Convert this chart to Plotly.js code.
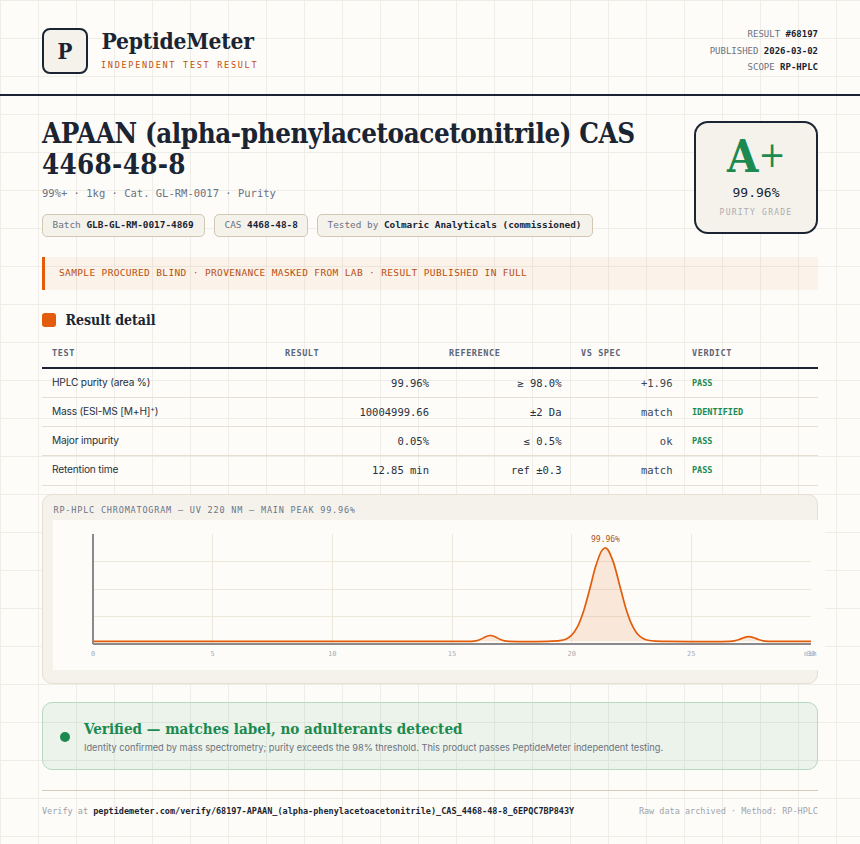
<!DOCTYPE html>
<html><head><meta charset="utf-8">
<script src="https://cdn.plot.ly/plotly-3.0.1.min.js"></script>
<style>
:root{--ink:#1a2433;--mono:"DejaVu Sans Mono",monospace;--serif:"DejaVu Serif Condensed","DejaVu Serif",serif;--sans:Inter,"Noto Sans",sans-serif;--orange:#e25c0b;--green:#1c8a50;--panel:#f5f2ec;--muted:#6b7280}
*{box-sizing:border-box}
html,body{margin:0;padding:0}
body{width:860px;height:844px;overflow:hidden;position:relative;background-color:#fdfcf8;
background-image:linear-gradient(#efede7 1px,transparent 1px),linear-gradient(90deg,#efede7 1px,transparent 1px);background-size:38px 38px;color:var(--ink)}
.a{position:absolute;white-space:nowrap;line-height:1}
.m{font-family:var(--mono)}.s{font-family:var(--serif);font-weight:700}.n{font-family:var(--sans)}
b{font-weight:700;color:var(--ink)}
.vc{transform:translateY(-50%)}
.r{transform:translate(-100%,-50%)}
.c{transform:translate(-50%,-50%);text-align:center}
.pill{position:absolute;top:213.5px;height:23px;border:1px solid #d0c8b3;border-radius:5px;background:var(--panel);font:9.4px/20px var(--mono);color:var(--muted);padding-left:9.5px;white-space:nowrap}
</style></head><body>
<div id="page"></div>
<script>
var brandName = "PeptideMeter";
var brandTag = "INDEPENDENT TEST RESULT";
var metaLabels = ["RESULT", "PUBLISHED", "SCOPE"];
var metaValues = ["#68197", "2026-03-02", "RP-HPLC"];
var titleLines = ["APAAN (alpha-phenylacetoacetonitrile) CAS", "4468-48-8"];
var subtitle = "99%+ · 1kg · Cat. GL-RM-0017 · Purity";
var pillLabels = ["Batch", "CAS", "Tested by"];
var pillValues = ["GLB-GL-RM-0017-4869", "4468-48-8", "Colmaric Analyticals (commissioned)"];
var notice = "SAMPLE PROCURED BLIND · PROVENANCE MASKED FROM LAB · RESULT PUBLISHED IN FULL";
var tableHeads = ["TEST", "RESULT", "REFERENCE", "VS SPEC", "VERDICT"];
var testNames = ["HPLC purity (area %)", "Mass (ESI-MS [M+H]<sup>+</sup>)", "Major impurity", "Retention time"];
var testResults = ["99.96%", "10004999.66", "0.05%", "12.85 min"];
var testRefs = ["≥ 98.0%", "±2 Da", "≤ 0.5%", "ref ±0.3"];
var testVsSpec = ["+1.96", "match", "ok", "match"];
var testVerdicts = ["PASS", "IDENTIFIED", "PASS", "PASS"];
var chartTitle = "RP-HPLC CHROMATOGRAM — UV 220 NM — MAIN PEAK 99.96%";

var retentionMin = [0,5,10,15,15.8,16,16.2,16.4,16.6,16.8,17,17.2,17.4,19,19.5,19.75,20,20.25,20.5,20.75,21,21.25,21.4,21.5,21.75,22,22.25,22.5,22.75,23,23.25,23.5,24,26.6,26.8,27,27.2,27.4,27.6,27.8,28,28.2,30];
var signal =       [0,0,0,0,0,0.4,1.8,4.1,5.3,4.1,1.8,0.4,0,0,0.6,1.9,5.6,13.5,27.5,47.1,67.9,82.2,85,83.6,71.5,51.5,31,15.8,6.7,2.4,0.7,0.2,0,0,0.4,1.6,3.4,4.3,3.4,1.6,0.4,0,0];
var peakLabel = "99.96%";
var xTicks = [0,5,10,15,20,25,30];

var h = "";
function el(cls, st, txt){ h += '<div class="a '+cls+'" style="'+st+'">'+txt+'</div>'; }
el("", "left:42px;top:28px;width:46px;height:46px;border:2px solid var(--ink);border-radius:8px;background:var(--panel)", "");
el("s c", "left:65px;top:51px;font-size:22px", "P");
el("s", "left:101.5px;top:30px;font-size:22.6px;letter-spacing:-.2px", brandName);
el("m vc", "left:101px;top:65px;font-size:8.5px;letter-spacing:1.72px;color:#c2500a", brandTag);
[34,51,67].forEach(function(y,i){ el("m r","left:818px;top:"+y+"px;font-size:9px;color:var(--muted)", metaLabels[i]+' <b>'+metaValues[i]+'</b>'); });
el("", "left:0;top:94px;width:860px;height:2px;background:var(--ink)", "");
el("s", "left:42px;top:118px;font-size:27.5px;line-height:30.5px",
  '<span style="letter-spacing:-.42px">'+titleLines[0]+'</span><br><span style="letter-spacing:.3px">'+titleLines[1]+'</span>');
el("m vc","left:42px;top:193px;font-size:10.5px;color:var(--muted)", subtitle);
var pillX=[42,214,317], pillW=[162.5,93.5,276];
pillLabels.forEach(function(l,i){ h+='<div class="pill" style="left:'+pillX[i]+'px;width:'+pillW[i]+'px">'+l+' <b>'+pillValues[i]+'</b></div>'; });
el("", "left:694px;top:121px;width:124px;height:113px;border:2px solid var(--ink);border-radius:14px;background:var(--panel)", "");
el("s","left:727px;top:134px;font-size:45px;color:var(--green)", 'A<span style="font-weight:400;font-size:36px;position:relative;top:-5px">+</span>');
el("m c","left:756px;top:192px;font-size:13px;color:var(--ink)", "99.96%");
el("m c","left:756px;top:213px;font-size:8px;letter-spacing:1.25px;color:#a9abb0", "PURITY GRADE");
el("", "left:42px;top:257px;width:776px;height:33px;border-left:3px solid var(--orange);background:rgba(226,92,11,.06)", "");
el("m vc","left:59px;top:272.5px;font-size:9.5px;letter-spacing:.36px;color:#b8500f", notice);
el("", "left:42px;top:313px;width:14px;height:14px;border-radius:3px;background:var(--orange)", "");
el("s vc","left:65.5px;top:320px;font-size:14px", "Result detail");
var headX=[52,285,449,581,692];
tableHeads.forEach(function(t,i){ el("m vc","left:"+headX[i]+"px;top:353px;font-size:8.5px;font-weight:700;letter-spacing:.6px;color:#5b6478", t); });
el("", "left:42px;top:367px;width:776px;height:2px;background:var(--ink)", "");
var rowY=[383,412,441,470], sepY=[397,426,455,485];
testNames.forEach(function(t,i){
  el("n vc","left:52px;top:"+(rowY[i]-1)+"px;font-size:10.2px;letter-spacing:-.2px;color:#273142", t.replace('<sup>','<sup style="font-size:7px;line-height:0">'));
  el("m r","left:429px;top:"+rowY[i]+"px;font-size:10.5px;color:#273142", testResults[i]);
  el("m r","left:561.5px;top:"+rowY[i]+"px;font-size:10.5px;color:#273142", testRefs[i]);
  el("m r","left:672.5px;top:"+rowY[i]+"px;font-size:10.5px;color:#3b4454", testVsSpec[i]);
  el("m vc","left:692px;top:"+rowY[i]+"px;font-size:8.5px;font-weight:700;color:var(--green)", testVerdicts[i]);
  el("", "left:42px;top:"+sepY[i]+"px;width:776px;height:1px;background:#e4dfd2", "");
});
el("", "left:42px;top:494px;width:776px;height:190px;border:1px solid #e6e0d3;border-radius:10px;background:var(--panel)", "");
el("m vc","left:53.5px;top:510px;font-size:8.5px;letter-spacing:.81px;color:#6b7488", chartTitle);
h+='<div id="chart" style="position:absolute;left:53px;top:520px;width:772px;height:150px"></div>';
el("", "left:42px;top:702px;width:776px;height:67.5px;border:1px solid #b7d9c4;border-radius:10px;background:rgba(28,138,80,.08)", "");
el("", "left:60px;top:731.5px;width:10px;height:10px;border-radius:50%;background:var(--green)", "");
el("s vc","left:84px;top:729.5px;font-size:15.1px;color:var(--green)", "Verified — matches label, no adulterants detected");
el("n vc","left:84px;top:748px;font-size:9.23px;color:var(--muted)", "Identity confirmed by mass spectrometry; purity exceeds the 98% threshold. This product passes PeptideMeter independent testing.");
el("", "left:42px;top:790px;width:776px;height:1px;background:#d5cbb8", "");
el("m vc","left:42px;top:811px;font-size:8.5px;color:#9aa0aa", 'Verify at <b>peptidemeter.com/verify/68197-APAAN_(alpha-phenylacetoacetonitrile)_CAS_4468-48-8_6EPQC7BP843Y</b>');
el("m r","left:818px;top:811px;font-size:8.5px;color:#a0a4ad", "Raw data archived · Method: RP-HPLC");
document.getElementById("page").innerHTML = h;

var tickFont = {family:"DejaVu Sans Mono, monospace", size:7, color:"#a9aeb8"};
var axisLine = {color:"#8a8a8e", width:2};
Plotly.newPlot("chart", [{
  type:"scatter", mode:"lines", x:retentionMin, y:signal,
  line:{color:"#e25c0b", width:1.7, shape:"spline", smoothing:0.7},
  fill:"tozeroy", fillcolor:"rgba(226,92,11,0.12)", hoverinfo:"skip"
}], {
  width:772, height:150, margin:{l:40,r:14,t:13.5,b:26.3},
  paper_bgcolor:"#fdfcf8", plot_bgcolor:"#fdfcf8", showlegend:false,
  xaxis:{range:[0,30], tickmode:"array", tickvals:xTicks, ticktext:xTicks.map(String), tickfont:tickFont, ticks:"outside", ticklen:3, tickcolor:"rgba(0,0,0,0)",
    showline:false, gridcolor:"#ece8dc", gridwidth:1, zeroline:false, fixedrange:true},
  yaxis:{range:[-2.45,97.55], tick0:22.55, dtick:25, showticklabels:false, ticks:"",
    showline:false, gridcolor:"#ece8dc", gridwidth:1, zeroline:false, fixedrange:true},
  shapes:[
    {type:"line", xref:"paper", yref:"paper", x0:0, x1:0, y0:0, y1:1, line:axisLine, layer:"above"},
    {type:"line", xref:"paper", yref:"paper", x0:0, x1:1, y0:0, y1:0, line:axisLine, layer:"above"}
  ],
  annotations:[
    {x:21.4, y:92.5, xref:"x", yref:"y", text:peakLabel, showarrow:false, xanchor:"center", yanchor:"middle",
      font:{family:"DejaVu Sans Mono, monospace", size:8, color:"#a9552a"}},
    {x:1, xshift:8, y:0, yshift:-9.5, xref:"paper", yref:"paper", text:"min", showarrow:false, xanchor:"right", yanchor:"middle", font:tickFont}
  ]
}, {displayModeBar:false, staticPlot:true});
</script>
</body></html>
